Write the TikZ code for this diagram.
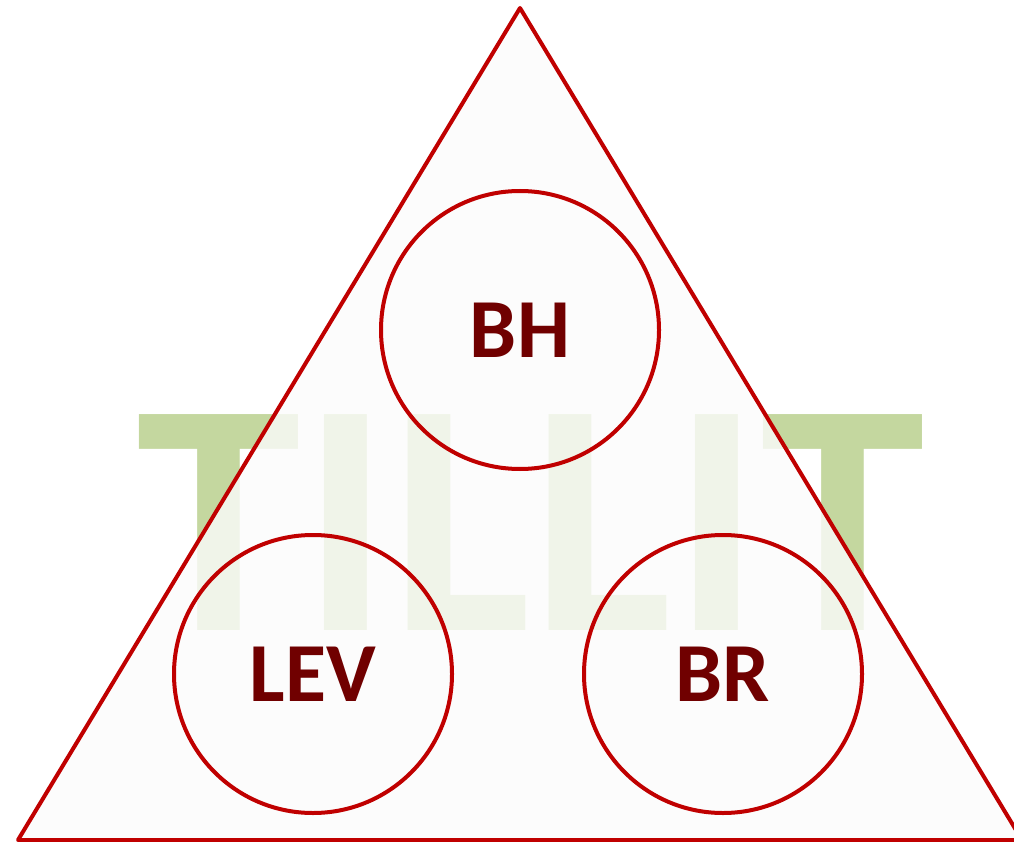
\documentclass[tikz,border=0pt]{standalone}
\usepackage{fontspec}
\setmainfont{Carlito}
\usepackage{tikz}
\usetikzlibrary{positioning}
\definecolor{tilred}{HTML}{C00000}
\definecolor{tildark}{HTML}{700000}
\definecolor{tilgreen}{HTML}{C4D79F}
\definecolor{tilfill}{HTML}{FCFCFC}

\begin{document}
\begin{tikzpicture}[x=1pt,y=-1pt,
		ring/.style={circle,draw=tilred,line width=4pt,minimum size=278pt,inner sep=0pt,
			text=tildark,font=\fontsize{84}{84}\selectfont\bfseries}]
			\useasboundingbox (0,0) rectangle (1014,842);
			\fill [white] (0,0) rectangle (1014,842);
			\node [anchor=base,inner sep=0pt,text=tilgreen,font=\fontsize{333}{333}\selectfont\bfseries] (mark) at (531,630) {TILLIT};
			\filldraw [tilred,fill=tilfill,fill opacity=0.8,line width=4pt,line join=round] (18,840) -- (520,8) -- (1022,840) -- cycle;
			\node [ring] (bh) at (520,330) {BH};
			\node [ring] (lev) at (313,674) {LEV};
			\node [ring] (br) at (723,674) {BR};
		\end{tikzpicture}
\end{document}
